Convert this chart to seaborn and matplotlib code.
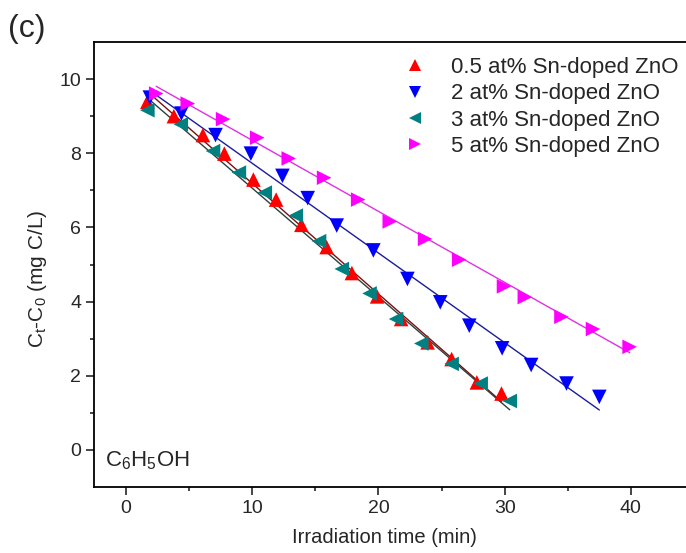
import numpy as np
import pandas as pd
import matplotlib
matplotlib.use("Agg")
import matplotlib.pyplot as plt
import seaborn as sns
from matplotlib.lines import Line2D

labels = ["0.5 at% Sn-doped ZnO", "2 at% Sn-doped ZnO", "3 at% Sn-doped ZnO", "5 at% Sn-doped ZnO"]

t_05 = [1.7, 3.8, 6.1, 7.8, 10.1, 11.9, 13.9, 15.9, 17.9, 19.9, 21.8, 23.9, 25.8, 27.8, 29.75]
c_05 = [9.39, 9.0, 8.49, 7.99, 7.29, 6.75, 6.07, 5.47, 4.77, 4.14, 3.53, 2.90, 2.45, 1.82, 1.52]

t_2 = [1.9, 4.4, 7.1, 9.9, 12.4, 14.4, 16.7, 19.6, 22.3, 24.9, 27.2, 29.8, 32.1, 34.9, 37.5]
c_2 = [9.5, 9.07, 8.49, 7.99, 7.39, 6.79, 6.05, 5.38, 4.61, 3.98, 3.35, 2.74, 2.29, 1.79, 1.43]

t_3 = [1.7, 4.35, 6.9, 8.95, 11.0, 13.46, 15.3, 17.1, 19.3, 21.4, 23.4, 25.8, 28.1, 30.4]
c_3 = [9.16, 8.78, 8.06, 7.48, 6.94, 6.32, 5.63, 4.88, 4.22, 3.53, 2.87, 2.32, 1.79, 1.32]

t_5 = [2.4, 4.9, 7.7, 10.4, 12.9, 15.7, 18.4, 20.9, 23.7, 26.4, 29.95, 31.6, 34.5, 37.0, 39.9]
c_5 = [9.61, 9.34, 8.92, 8.42, 7.86, 7.34, 6.75, 6.16, 5.69, 5.13, 4.41, 4.12, 3.59, 3.26, 2.78]

x_ticks = [0, 10, 20, 30, 40]
y_ticks = [0, 2, 4, 6, 8, 10]

marker_colors = ["#ff0000", "#0000ff", "#008080", "#ff00ff"]
line_colors = ["#7a1010", "#1c1c9c", "#2f3f3f", "#e030e0"]
markers = ["^", "v", "<", ">"]

df = pd.concat([
    pd.DataFrame({"t": t, "c": c, "sample": lab})
    for t, c, lab in zip([t_05, t_2, t_3, t_5], [c_05, c_2, c_3, c_5], labels)
], ignore_index=True)

sns.set_style("ticks")
plt.rcParams["font.family"] = ["Liberation Sans", "DejaVu Sans"]
plt.rcParams["mathtext.fontset"] = "custom"
plt.rcParams["mathtext.rm"] = "Liberation Sans"
plt.rcParams["mathtext.it"] = "Liberation Sans"

fig = plt.figure(figsize=(6.86, 5.53), dpi=100)
# axes: left spine at x~94 px, bottom spine ~487 px, top ~42 px, right beyond image
ax = fig.add_axes([0.1375, 1 - 487 / 553, 0.8742, (487 - 42) / 553])

for lab, lc in zip(labels, line_colors):
    sub = df[df["sample"] == lab]
    sns.regplot(data=sub, x="t", y="c", ax=ax, scatter=False, ci=None, truncate=True,
                line_kws={"color": lc, "lw": 1.0, "zorder": 2})

sns.scatterplot(data=df, x="t", y="c", hue="sample", style="sample",
                hue_order=labels, style_order=labels,
                palette=dict(zip(labels, marker_colors)),
                markers=dict(zip(labels, markers)),
                s=110, edgecolor="none", linewidth=0, ax=ax, zorder=3, legend=False)

ax.set_xlim(-2.5, 45)
ax.set_ylim(-1.0, 11.0)
ax.set_xticks(x_ticks)
ax.set_yticks(y_ticks)
ax.set_xticks([5, 15, 25, 35], minor=True)
ax.set_yticks([1, 3, 5, 7, 9], minor=True)
ax.tick_params(axis="both", which="major", direction="out", length=5.5, width=1.2, labelsize=14, pad=4)
ax.tick_params(axis="both", which="minor", direction="out", length=3.2, width=1.2)
for sp in ax.spines.values():
    sp.set_linewidth(1.3)
    sp.set_color("black")

ax.set_xlabel("Irradiation time (min)", fontsize=14.5)
ax.xaxis.set_label_coords(0.4845, -0.092)
ax.set_ylabel(r"C$_t$-C$_0$ (mg C/L)", fontsize=15)
ax.yaxis.set_label_coords(-0.076, 0.467)

ax.text(0.018, 0.06, r"C$_6$H$_5$OH", transform=ax.transAxes, fontsize=16, ha="left", va="center")
fig.text(0.012, 0.948, "(c)", fontsize=23, ha="left", va="center")

handles = [Line2D([], [], linestyle="none", marker=m, color=c, markersize=8, markeredgewidth=0)
           for m, c in zip(markers, marker_colors)]
leg = ax.legend(handles, labels, loc="upper left", bbox_to_anchor=(404 / 686, 1 - 57 / 553),
                bbox_transform=fig.transFigure, frameon=False, fontsize=16,
                handletextpad=1.1, labelspacing=0.24, handlelength=1.0, borderpad=0.0,
                borderaxespad=0.0)

fig.savefig("out.png", dpi=100)
